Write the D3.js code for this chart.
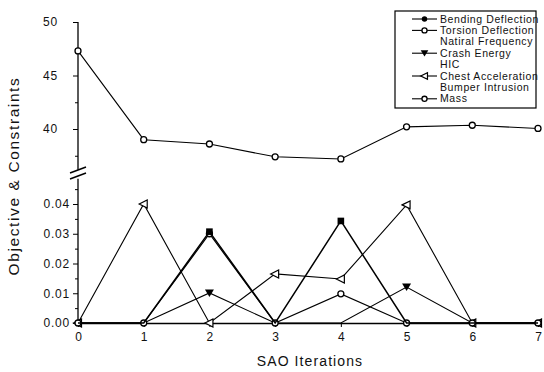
<!DOCTYPE html>
<html><head><meta charset="utf-8">
<script src="https://cdn.jsdelivr.net/npm/d3@7"></script>
<style>body{margin:0;background:#fff}svg{font-family:"Liberation Sans",Arial,sans-serif}</style>
</head><body>
<svg id="c" width="544" height="372"></svg>
<script>
const iterations = [0,1,2,3,4,5,6,7];
const mass = [47.3, 39.0, 38.6, 37.4, 37.2, 40.2, 40.35, 40.05];
const bending = [0, 0, 0.0307, 0, 0.0343, 0, 0, 0];
const torsion = [0, 0, 0.0300, 0, 0.0098, 0, 0, 0];
const crash = [0, 0, 0.0101, 0, 0, 0.0121, 0, 0];
const chest = [0, 0.0400, 0, 0.0165, 0.0148, 0.0397, 0, 0];
const upperTicks = [40, 45, 50];
const lowerTicks = [0, 0.01, 0.02, 0.03, 0.04];
const legendNames = ["Bending Deflection","Torsion Deflection","Natiral Frequency","Crash Energy","HIC","Chest Acceleration","Bumper Intrusion","Mass"];
const legendSymbols = ["fcircle","ocircle",null,"ftri",null,"otri",null,"ocircle"];

const svg = d3.select("#c");
const x = d3.scaleLinear().domain([0,7]).range([78,538]);
const yU = d3.scaleLinear().domain([40,50]).range([129,22]);
const yL = d3.scaleLinear().domain([0,0.04]).range([323,204]);
const axisX = 78;

// upper y axis
const gU = svg.append("g").attr("class","yax").attr("transform",`translate(${axisX},0)`);
gU.call(d3.axisLeft(yU).tickValues(upperTicks).tickSize(5).tickPadding(15).tickFormat(d3.format("d")));
gU.append("g").call(d3.axisLeft(yU).tickValues([37.5,42.5,47.5]).tickSize(3).tickFormat(""));
gU.selectAll(".domain").remove();
gU.append("line").attr("x1",0).attr("x2",0).attr("y1",yU(50)).attr("y2",yU(36.2)).attr("stroke","#000").attr("stroke-width",1.3);

// lower y axis
const gL = svg.append("g").attr("class","yax").attr("transform",`translate(${axisX},0)`);
gL.call(d3.axisLeft(yL).tickValues(lowerTicks).tickSize(5).tickPadding(3).tickFormat(d3.format(".2f")));
gL.append("g").call(d3.axisLeft(yL).tickValues([0.005,0.015,0.025,0.035,0.045]).tickSize(3).tickFormat(""));
gL.selectAll(".domain").remove();
gL.append("line").attr("x1",0).attr("x2",0).attr("y1",yL(0)).attr("y2",yL(0.0485)).attr("stroke","#000").attr("stroke-width",1.3);

svg.selectAll("g.yax g.tick text").attr("font-size",12).attr("letter-spacing",0.8).attr("fill","#111").attr("font-family","Liberation Sans, Arial, sans-serif");
svg.selectAll("g.tick line").attr("stroke","#000");

// break marks
[170,176].forEach(yy=>{
  svg.append("line").attr("x1",axisX-8).attr("y1",yy+3).attr("x2",axisX+8).attr("y2",yy-3).attr("stroke","#000").attr("stroke-width",1.6);
});

// x axis
const gX = svg.append("g").attr("transform",`translate(0,${yL(0)})`);
gX.call(d3.axisBottom(x).tickValues(iterations).tickSize(4).tickSizeOuter(0).tickFormat(d3.format("d")));
gX.select(".domain").attr("stroke-width",1.3);
gX.selectAll("text").attr("font-size",12).attr("dy","0.95em").attr("fill","#111").attr("font-family","Liberation Sans, Arial, sans-serif");

// axis titles
svg.append("text").attr("x",310).attr("y",366).attr("text-anchor","middle").attr("font-size",14).attr("letter-spacing",1.1).attr("fill","#111").text("SAO Iterations");
svg.append("text").attr("transform","translate(19,176) rotate(-90)").attr("text-anchor","middle").attr("font-size",15.5).attr("letter-spacing",1.6).attr("fill","#111").text("Objective & Constraints");

// symbol drawer
function sym(g, type, cx, cy, s){
  if(type==="ocircle") g.append("circle").attr("cx",cx).attr("cy",cy).attr("r",3*s).attr("fill","#fff").attr("stroke","#000").attr("stroke-width",1.3);
  else if(type==="fcircle") g.append("circle").attr("cx",cx).attr("cy",cy).attr("r",3.2*s).attr("fill","#000");
  else if(type==="fsquare") g.append("rect").attr("x",cx-3.3*s).attr("y",cy-3.3*s).attr("width",6.6*s).attr("height",6.6*s).attr("fill","#000");
  else if(type==="ftri") g.append("path").attr("d",`M${cx-4.5*s},${cy-3.5*s}L${cx+4.5*s},${cy-3.5*s}L${cx},${cy+4*s}Z`).attr("fill","#000");
  else if(type==="otri") g.append("path").attr("d",`M${cx-4.5*s},${cy}L${cx+3.5*s},${cy-4*s}L${cx+3.5*s},${cy+4*s}Z`).attr("fill","#fff").attr("stroke","#000").attr("stroke-width",1.2);
}

function series(vals, yScale, type, w, skipZero){
  const g = svg.append("g");
  const line = d3.line().x((d,i)=>x(iterations[i])).y(d=>yScale(d));
  g.append("path").attr("d",line(vals)).attr("fill","none").attr("stroke","#000").attr("stroke-width",w);
  vals.forEach((v,i)=>{ if(!(skipZero && v===0)) sym(g,type,x(iterations[i]),yScale(v),1); });
}

series(chest, yL, "otri", 1.1, false);
series(crash, yL, "ftri", 1.1, true);
series(torsion, yL, "ocircle", 1.2, false);
series(bending, yL, "fsquare", 1.5, true);
series(mass, yU, "ocircle", 1.1, false);

// legend
const lg = svg.append("g");
lg.append("rect").attr("x",395).attr("y",11).attr("width",141).attr("height",97).attr("fill","#fff").attr("stroke","#000").attr("stroke-width",1.2);
legendNames.forEach((n,i)=>{
  const yy = 19 + i*11.4;
  if(legendSymbols[i]){
    lg.append("line").attr("x1",412).attr("x2",437).attr("y1",yy).attr("y2",yy).attr("stroke","#000").attr("stroke-width",1.1);
    sym(lg, legendSymbols[i], 424.5, yy, 0.85);
  }
  lg.append("text").attr("x",440).attr("y",yy+3.5).attr("font-size",10.5).attr("letter-spacing",0.6).attr("fill","#111").text(n);
});
</script>
</body></html>
